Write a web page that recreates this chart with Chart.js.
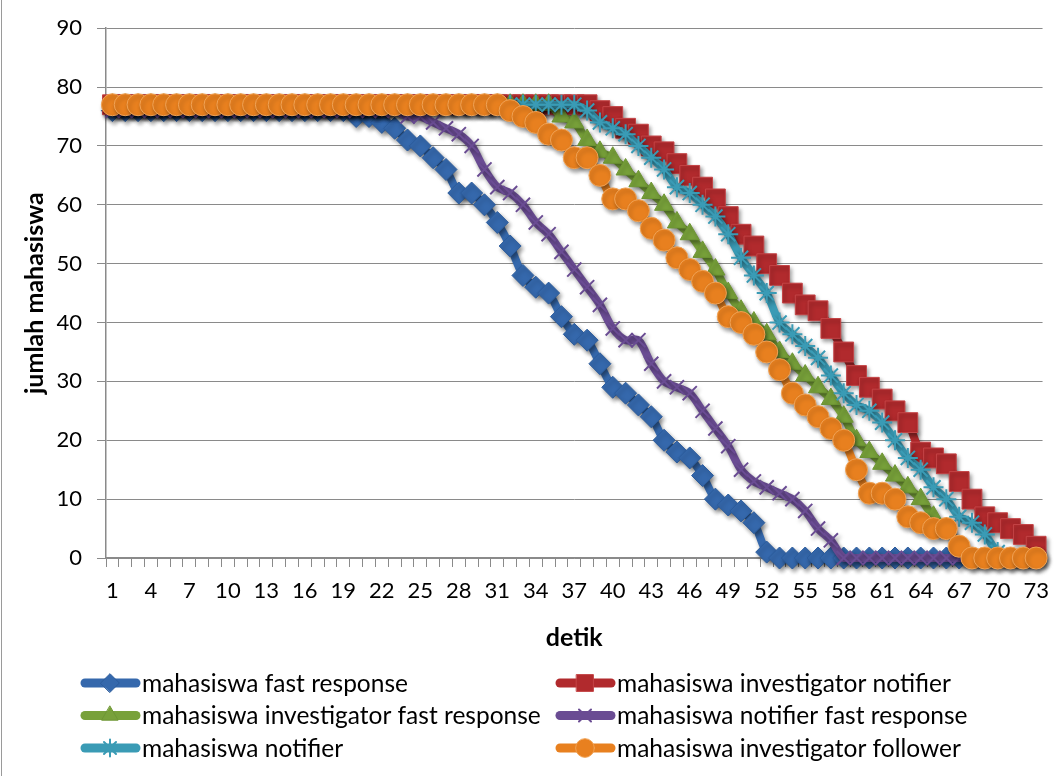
<!DOCTYPE html>
<html>
<head>
<meta charset="utf-8">
<title>jumlah mahasiswa per detik</title>
<script src="https://cdn.jsdelivr.net/npm/chart.js@4"></script>
<style>
  body { margin: 0; background: #fff; }
  #wadah { position: relative; width: 1060px; height: 776px; }
  #garis-kiri { position: absolute; left: 1px; top: 0; width: 1px; height: 776px; background: #9a9a9a; }
</style>
</head>
<body>
<div id="wadah">
  <canvas id="grafik" width="1060" height="776"></canvas>
  <div id="garis-kiri"></div>
</div>
<script>
// Sumbu x: detik ke-1 sampai ke-73
const detik = [
  1, 2, 3, 4, 5, 6, 7, 8, 9, 10, 11, 12, 13, 14, 15, 16, 17, 18, 19, 20,
  21, 22, 23, 24, 25, 26, 27, 28, 29, 30, 31, 32, 33, 34, 35, 36, 37, 38, 39, 40,
  41, 42, 43, 44, 45, 46, 47, 48, 49, 50, 51, 52, 53, 54, 55, 56, 57, 58, 59, 60,
  61, 62, 63, 64, 65, 66, 67, 68, 69, 70, 71, 72, 73
];

// Jumlah mahasiswa yang tersisa tiap detik, per skenario
const fastResponse = [
  76, 76, 76, 76, 76, 76, 76, 76, 76, 76, 76, 76, 76, 76, 76, 76, 76, 76, 76, 75,
  75, 74, 73, 71, 70, 68, 66, 62, 62, 60, 57, 53, 48, 46, 45, 41, 38, 37, 33, 29,
  28, 26, 24, 20, 18, 17, 14, 10, 9, 8, 6, 1, 0, 0, 0, 0, 0, 0, 0, 0,
  0, 0, 0, 0, 0, 0, 0, 0, 0, 0, 0, 0, 0
];
const investigatorNotifier = [
  77, 77, 77, 77, 77, 77, 77, 77, 77, 77, 77, 77, 77, 77, 77, 77, 77, 77, 77, 77,
  77, 77, 77, 77, 77, 77, 77, 77, 77, 77, 77, 77, 77, 77, 77, 77, 77, 77, 76, 75,
  73, 72, 70, 69, 67, 65, 63, 61, 58, 55, 53, 50, 48, 45, 43, 42, 39, 35, 31, 29,
  27, 25, 23, 18, 17, 16, 13, 10, 7, 6, 5, 4, 2
];
const investigatorFastResponse = [
  77, 77, 77, 77, 77, 77, 77, 77, 77, 77, 77, 77, 77, 77, 77, 77, 77, 77, 77, 77,
  77, 77, 77, 77, 77, 77, 77, 77, 77, 77, 77, 77, 77, 77, 77, 75, 74, 71, 69, 68,
  66, 64, 62, 60, 57, 55, 52, 49, 45, 42, 40, 38, 35, 33, 31, 29, 27, 24, 20, 18,
  16, 14, 12, 10, 7, 5, 2, 0, 0, 0, 0, 0, 0
];
const notifierFastResponse = [
  76, 76, 76, 76, 76, 76, 76, 76, 76, 76, 76, 76, 76, 76, 76, 76, 76, 76, 76, 76,
  76, 76, 76, 75, 75, 74, 73, 72, 70, 66, 63, 62, 60, 57, 55, 52, 49, 46, 43, 39,
  37, 37, 33, 30, 29, 28, 25, 22, 19, 15, 13, 12, 11, 10, 8, 5, 3, 0, 0, 0,
  0, 0, 0, 0, 0, 0, 0, 0, 0, 0, 0, 0, 0
];
const notifier = [
  77, 77, 77, 77, 77, 77, 77, 77, 77, 77, 77, 77, 77, 77, 77, 77, 77, 77, 77, 77,
  77, 77, 77, 77, 77, 77, 77, 77, 77, 77, 77, 77, 77, 77, 77, 77, 77, 76, 74, 73,
  72, 70, 68, 66, 63, 62, 60, 58, 55, 51, 48, 45, 40, 38, 36, 34, 31, 28, 26, 25,
  23, 20, 17, 15, 12, 10, 7, 6, 4, 1, 0, 0, 0
];
const investigatorFollower = [
  77, 77, 77, 77, 77, 77, 77, 77, 77, 77, 77, 77, 77, 77, 77, 77, 77, 77, 77, 77,
  77, 77, 77, 77, 77, 77, 77, 77, 77, 77, 77, 76, 75, 74, 72, 71, 68, 68, 65, 61,
  61, 59, 56, 54, 51, 49, 47, 45, 41, 40, 38, 35, 32, 28, 26, 24, 22, 20, 15, 11,
  11, 10, 7, 6, 5, 5, 2, 0, 0, 0, 0, 0, 0
];

const FONT = 'Lato';
const ABU = '#8a8a8a';

// Bayangan di bawah garis dan penanda
const bayangan = {
  id: 'bayangan',
  beforeDatasetDraw(chart) {
    const ctx = chart.ctx;
    ctx.save();
    ctx.shadowColor = 'rgba(0, 0, 0, 0.4)';
    ctx.shadowBlur = 4;
    ctx.shadowOffsetX = 2;
    ctx.shadowOffsetY = 3;
  },
  afterDatasetDraw(chart) {
    chart.ctx.restore();
  }
};

// Legenda dua kolom di bawah grafik
const legendaBawah = {
  id: 'legendaBawah',
  afterDraw(chart) {
    const ctx = chart.ctx;
    chart.data.datasets.forEach((ds, i) => {
      const x0 = i % 2 ? 555 : 80;
      const y = 683 + Math.floor(i / 2) * 32.5;
      ctx.save();
      ctx.strokeStyle = ds.borderColor;
      ctx.lineWidth = 9;
      ctx.lineCap = 'round';
      ctx.beginPath();
      ctx.moveTo(x0 + 5, y);
      ctx.lineTo(x0 + 56, y);
      ctx.stroke();
      ctx.fillStyle = ds.pointBackgroundColor;
      ctx.strokeStyle = ds.pointBorderColor;
      ctx.lineWidth = ds.pointBorderWidth;
      Chart.helpers.drawPoint(ctx, {
        pointStyle: ds.pointStyle,
        radius: ds.pointRadius * 0.85,
        borderWidth: ds.pointBorderWidth,
        rotation: 0
      }, x0 + 30, y);
      ctx.fillStyle = '#000';
      ctx.font = `24.5px ${FONT}`;
      ctx.textBaseline = 'middle';
      ctx.fillText(ds.label, x0 + 62, y + 1);
      ctx.restore();
    });
  }
};

const seri = (label, data, warna, gaya, radius, tepi, urutan, lebarTepi = 1) => ({
  label,
  data,
  borderColor: warna,
  borderWidth: 8,
  pointStyle: gaya,
  pointRadius: radius,
  pointBackgroundColor: warna,
  pointBorderColor: tepi,
  pointBorderWidth: lebarTepi,
  order: urutan,
  clip: false
});

new Chart(document.getElementById('grafik'), {
  type: 'line',
  data: {
    labels: detik,
    datasets: [
      seri('mahasiswa fast response', fastResponse, '#3568ac', 'rectRot', 11, '#2c5c9c', 6),
      seri('mahasiswa investigator notifier', investigatorNotifier, '#b12a2d', 'rect', 14, '#c44446', 5),
      seri('mahasiswa investigator fast response', investigatorFastResponse, '#78a13a', 'triangle', 11, '#6e9634', 4),
      seri('mahasiswa notifier fast response', notifierFastResponse, '#6a4c93', 'crossRot', 10, '#6a4c93', 3, 2),
      seri('mahasiswa notifier', notifier, '#3a9bb5', 'star', 10, '#3a9bb5', 2, 2),
      seri('mahasiswa investigator follower', investigatorFollower, '#e8801f', 'circle', 11, '#f0a255', 1)
    ]
  },
  options: {
    responsive: false,
    animation: false,
    layout: { padding: { top: 27, right: 14, bottom: 120, left: 0 } },
    elements: { line: { tension: 0.3 } },
    plugins: {
      legend: { display: false },
      tooltip: { enabled: false }
    },
    scales: {
      x: {
        offset: true,
        grid: { offset: true, drawOnChartArea: false, tickLength: 9, color: ABU },
        border: { color: ABU, width: 1.5 },
        ticks: {
          autoSkip: false,
          maxRotation: 0,
          padding: 11,
          color: '#000',
          font: { family: FONT, size: 22 },
          callback: (v, idx) => (idx % 3 === 0 ? detik[idx] : '')
        },
        title: {
          display: true,
          text: 'detik',
          color: '#000',
          font: { family: FONT, size: 25, weight: 'bold' },
          padding: { top: 0, bottom: 3 }
        },
        afterFit: (s) => { s.height = 98; }
      },
      y: {
        min: 0,
        max: 90,
        grid: { color: ABU, tickLength: 9 },
        border: { color: ABU, width: 1.5 },
        ticks: {
          stepSize: 10,
          padding: 15,
          color: '#000',
          font: { family: FONT, size: 22 }
        },
        title: {
          display: true,
          text: 'jumlah mahasiswa',
          color: '#000',
          font: { family: FONT, size: 25, weight: 'bold' },
          padding: { top: 20, bottom: 0 }
        },
        afterFit: (s) => { s.width = 106; }
      }
    }
  },
  plugins: [bayangan, legendaBawah]
});
</script>
</body>
</html>
